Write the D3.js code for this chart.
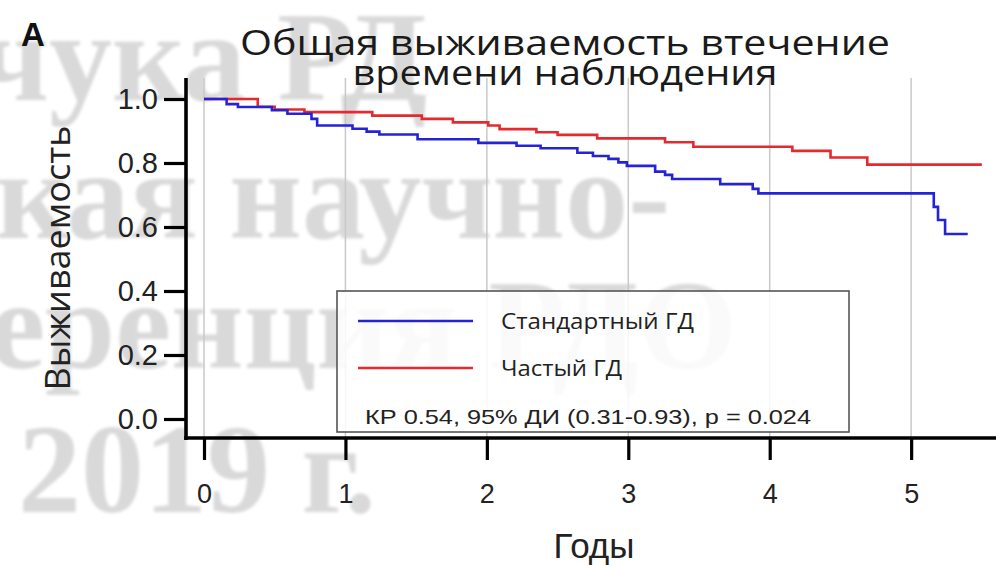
<!DOCTYPE html>
<html>
<head>
<meta charset="utf-8">
<script src="https://cdn.jsdelivr.net/npm/d3@7/dist/d3.min.js"></script>
<style>
  html, body { margin: 0; padding: 0; background: #fff; }
  svg { display: block; }
</style>
</head>
<body>
<svg id="chart" width="996" height="565"></svg>
<script>
// Kaplan–Meier overall survival, two dialysis regimens
const xTicks = [0, 1, 2, 3, 4, 5];
const yTicks = [0.0, 0.2, 0.4, 0.6, 0.8, 1.0];

const seriesNames = ["Стандартный ГД", "Частый ГД"];

// Standard HD (blue): step times (years) and survival
const stdTimes = [0, 0.16, 0.24, 0.48, 0.59, 0.76, 0.80, 1.05, 1.15, 1.24, 1.51, 1.94, 2.21, 2.38, 2.64, 2.75, 2.86, 2.93, 2.99, 3.19, 3.26, 3.31, 3.65, 3.88, 3.92, 5.16, 5.19, 5.24, 5.40];
const stdSurv  = [1.0, 0.984, 0.975, 0.965, 0.954, 0.938, 0.917, 0.907, 0.898, 0.889, 0.874, 0.863, 0.854, 0.846, 0.832, 0.822, 0.813, 0.802, 0.791, 0.773, 0.763, 0.750, 0.734, 0.719, 0.705, 0.663, 0.622, 0.578, 0.578];

// Frequent HD (red)
const freqTimes = [0, 0.38, 0.50, 0.71, 1.19, 1.54, 1.76, 2.01, 2.09, 2.35, 2.50, 2.78, 3.26, 3.46, 4.16, 4.43, 4.69, 5.50];
const freqSurv  = [1.0, 0.976, 0.967, 0.959, 0.948, 0.938, 0.927, 0.917, 0.906, 0.896, 0.888, 0.877, 0.865, 0.851, 0.838, 0.817, 0.795, 0.795];

const statsText = "КР 0.54, 95% ДИ (0.31-0.93), p = 0.024";
const titleLines = ["Общая выживаемость  втечение", "времени наблюдения"];
const watermarkLines = ["чука РД", "ская научно-", "ференция РДО", "2019 г."];

const colors = ["#2424d6", "#e52a2e"];

const svg = d3.select("#chart");

// background watermark
const wm = svg.append("g")
  .attr("fill", "#d9d9d9")
  .attr("font-family", "'Liberation Serif', 'DejaVu Serif', serif")
  .attr("font-weight", "bold")
  .attr("font-size", 126)
  .style("filter", "blur(1.4px)");
const wmPos = [[-22, 100], [-60, 238], [-98, 368], [18, 512]];
watermarkLines.forEach((t, i) => {
  wm.append("text").attr("x", wmPos[i][0]).attr("y", wmPos[i][1]).text(t);
});

const x = d3.scaleLinear().domain([0, 5.6]).range([204, 996]);
const y = d3.scaleLinear().domain([0, 1]).range([419, 99]);

const axisX = 186;   // y-axis line position
const axisY = 438;   // x-axis line position
const plotTop = 78;

// vertical grid lines
svg.append("g")
  .selectAll("line")
  .data(xTicks)
  .join("line")
  .attr("x1", d => x(d)).attr("x2", d => x(d))
  .attr("y1", plotTop).attr("y2", axisY)
  .attr("stroke", "#c9c9c9")
  .attr("stroke-width", 1.5);

// survival curves
const series = [
  { times: stdTimes, surv: stdSurv, color: colors[0] },
  { times: freqTimes, surv: freqSurv, color: colors[1] }
];
const line = d3.line()
  .x(d => x(d[0]))
  .y(d => y(d[1]))
  .curve(d3.curveStepAfter);

// frequent HD drawn first, standard on top
[series[1], series[0]].forEach(s => {
  svg.append("path")
    .datum(s.times.map((t, i) => [t, s.surv[i]]))
    .attr("fill", "none")
    .attr("stroke", s.color)
    .attr("stroke-width", 2.6)
    .attr("d", line);
});

// axes
const yAxis = d3.axisLeft(y)
  .tickValues(yTicks)
  .tickSize(22)
  .tickPadding(6)
  .tickFormat(d3.format(".1f"));
const gy = svg.append("g").attr("transform", `translate(${axisX},0)`).call(yAxis);
gy.select(".domain").remove();
gy.selectAll(".tick line").attr("stroke", "#000").attr("stroke-width", 3.2);
gy.selectAll(".tick text")
  .attr("font-family", "'Liberation Sans', Arial, sans-serif")
  .attr("font-size", 29)
  .attr("fill", "#222");
svg.append("line")
  .attr("x1", axisX).attr("x2", axisX)
  .attr("y1", plotTop).attr("y2", axisY + 2)
  .attr("stroke", "#000").attr("stroke-width", 3.6);

const xAxis = d3.axisBottom(x)
  .tickValues(xTicks)
  .tickSize(22)
  .tickPadding(24)
  .tickFormat(d3.format("d"));
const gx = svg.append("g").attr("transform", `translate(0,${axisY})`).call(xAxis);
gx.select(".domain").remove();
gx.selectAll(".tick line").attr("stroke", "#000").attr("stroke-width", 3.2);
gx.selectAll(".tick text")
  .attr("font-family", "'Liberation Sans Narrow', 'Liberation Sans', Arial, sans-serif")
  .attr("font-size", 27)
  .attr("fill", "#222");
svg.append("line")
  .attr("x1", axisX - 1.8).attr("x2", 996)
  .attr("y1", axisY).attr("y2", axisY)
  .attr("stroke", "#000").attr("stroke-width", 3.6);

// axis titles
svg.append("text")
  .attr("x", 594).attr("y", 558)
  .attr("text-anchor", "middle")
  .attr("font-family", "'Liberation Sans Narrow', 'Liberation Sans', Arial, sans-serif")
  .attr("font-size", 35)
  .attr("fill", "#222")
  .text("Годы");

svg.append("text")
  .attr("transform", "translate(70,258) rotate(-90)")
  .attr("text-anchor", "middle")
  .attr("font-family", "'Open Sans', 'Noto Sans', sans-serif")
  .attr("font-size", 34)
  .attr("fill", "#222")
  .attr("textLength", 265)
  .attr("lengthAdjust", "spacingAndGlyphs")
  .text("Выживаемость");

// title
const titleWidths = [650, 425];
titleLines.forEach((t, i) => {
  svg.append("text")
    .attr("x", 565).attr("y", 55 + i * 30)
    .attr("text-anchor", "middle")
    .attr("font-family", "'Open Sans', 'Noto Sans', sans-serif")
    .attr("font-size", 35)
    .attr("fill", "#1a1a1a")
    .attr("textLength", titleWidths[i])
    .attr("lengthAdjust", "spacingAndGlyphs")
    .text(t);
});

// panel letter
svg.append("text")
  .attr("x", 21).attr("y", 46)
  .attr("font-family", "'Liberation Sans', Arial, sans-serif")
  .attr("font-weight", "bold")
  .attr("font-size", 33)
  .attr("fill", "#111")
  .text("A");

// legend
const lg = svg.append("g").attr("transform", "translate(337,291)");
lg.append("rect")
  .attr("width", 512).attr("height", 141)
  .attr("fill", "#fff").attr("fill-opacity", 0.85)
  .attr("stroke", "#555").attr("stroke-width", 1.6);
const legendWidths = [193, 121];
seriesNames.forEach((name, i) => {
  const yy = 30 + i * 47;
  lg.append("line")
    .attr("x1", 21).attr("x2", 136)
    .attr("y1", yy).attr("y2", yy)
    .attr("stroke", colors[i]).attr("stroke-width", 2.4);
  lg.append("text")
    .attr("x", 164).attr("y", yy + 8)
    .attr("font-family", "'Open Sans', 'Noto Sans', sans-serif")
    .attr("font-size", 21)
    .attr("fill", "#222")
    .attr("textLength", legendWidths[i])
    .attr("lengthAdjust", "spacingAndGlyphs")
    .text(name);
});
lg.append("text")
  .attr("x", 28).attr("y", 133)
  .attr("font-family", "'Liberation Sans', Arial, sans-serif")
  .attr("font-size", 21)
  .attr("fill", "#222")
  .attr("textLength", 446)
  .attr("lengthAdjust", "spacingAndGlyphs")
  .text(statsText);
</script>
</body>
</html>
